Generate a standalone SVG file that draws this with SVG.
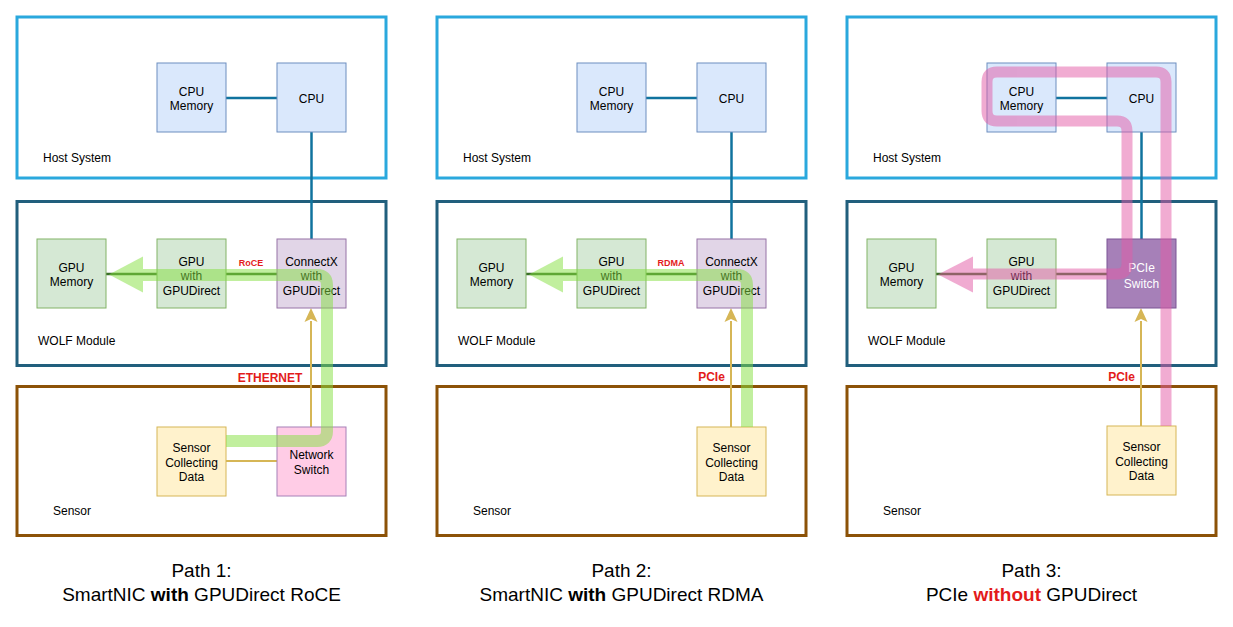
<svg xmlns="http://www.w3.org/2000/svg" width="1233" height="627" viewBox="0 0 1233 627">
<style>
text{font-family:"Liberation Sans",Arial,sans-serif;fill:#000}
.n{font-size:12px;text-anchor:middle}
.lbl{font-size:12px}
.host{fill:none;stroke:#2AA8DD;stroke-width:3}
.wolf{fill:none;stroke:#215F7D;stroke-width:3}
.sens{fill:none;stroke:#8C5207;stroke-width:3}
.blue{fill:#DAE8FC;stroke:#6C8EBF;stroke-width:1}
.green{fill:#D5E8D4;stroke:#82B366;stroke-width:1}
.purple{fill:#E1D5E7;stroke:#9673A6;stroke-width:1}
.yellow{fill:#FFF2CC;stroke:#D6B656;stroke-width:1}
.pink{fill:#FFCCE6;stroke:#A680B8;stroke-width:1}
.pswitch{fill:#A680B8;stroke:#7B5595;stroke-width:1}
.teal{fill:none;stroke:#10739E;stroke-width:2.5}
.dgreen{fill:none;stroke:#3A6E28;stroke-width:2.5}
.gold{fill:none;stroke:#D6B656;stroke-width:2}
.red{fill:#E31B1B;font-weight:bold;text-anchor:middle}
.cap{font-size:19px;text-anchor:middle}
.hg{fill:none;stroke:#84E040;stroke-width:12;stroke-linejoin:round}
.hp{fill:none;stroke:#E35AA5;stroke-width:11;stroke-linejoin:round}
</style>
<defs>
<marker id="arr" viewBox="0 0 12 12" refX="11" refY="6" markerWidth="6.5" markerHeight="6.5" orient="auto" markerUnits="userSpaceOnUse">
<path d="M0,0 L12,6 L0,12 L3,6 z" fill="#D6B656"/>
</marker>
<marker id="arrg" viewBox="0 0 12 12" refX="11" refY="6" markerWidth="13" markerHeight="13" orient="auto" markerUnits="userSpaceOnUse">
<path d="M0,0 L12,6 L0,12 L3,6 z" fill="#D6B656"/>
</marker>
</defs>
<rect width="1233" height="627" fill="#fff"/>

<!-- Panel 1 -->
<g id="panel1">
<g id="p1-host"><rect class="host" x="17" y="17" width="369" height="161"/><text class="lbl" x="43" y="162">Host System</text></g>
<g id="p1-wolf"><rect class="wolf" x="17" y="201.5" width="369" height="164"/><text class="lbl" x="38" y="345">WOLF Module</text></g>
<g id="p1-sensor"><rect class="sens" x="17" y="386.5" width="369" height="149"/><text class="lbl" x="53" y="515">Sensor</text></g>
<g id="p1-conn">
<path class="teal" d="M226,98 H277"/>
<path class="teal" d="M311.5,132 V239"/>
<path class="dgreen" d="M226,274 H277"/>
<path class="dgreen" d="M106,274 H157"/>
<path class="gold" d="M226,461 H277"/>
<path class="gold" d="M311,427 V321"/>
<path d="M311,308 L317.5,322 L311,319 L304.5,322 z" fill="#D6B656"/>
<text class="red" x="270" y="381.5" font-size="12">ETHERNET</text>
<text class="red" x="251" y="266" font-size="9">RoCE</text>
</g>
<g id="p1-cpumem"><rect class="blue" x="157" y="63" width="69" height="69"/><text class="n" x="191.5" y="96">CPU</text><text class="n" x="191.5" y="110">Memory</text></g>
<g id="p1-cpu"><rect class="blue" x="277" y="63" width="69" height="69"/><text class="n" x="311.5" y="103">CPU</text></g>
<g id="p1-gpumem"><rect class="green" x="37" y="239" width="69" height="69"/><text class="n" x="71.5" y="272">GPU</text><text class="n" x="71.5" y="286">Memory</text></g>
<g id="p1-gpu"><rect class="green" x="157" y="239" width="69" height="69"/><text class="n" x="191.5" y="265.5">GPU</text><text class="n" x="191.5" y="280">with</text><text class="n" x="191.5" y="294.5">GPUDirect</text></g>
<g id="p1-connectx"><rect class="purple" x="277" y="239" width="69" height="69"/><text class="n" x="311.5" y="265.5">ConnectX</text><text class="n" x="311.5" y="280">with</text><text class="n" x="311.5" y="294.5">GPUDirect</text></g>
<g id="p1-sensordata"><rect class="yellow" x="157" y="427" width="69" height="69"/><text class="n" x="191.5" y="452">Sensor</text><text class="n" x="191.5" y="466.5">Collecting</text><text class="n" x="191.5" y="481">Data</text></g>
<g id="p1-netswitch"><rect class="pink" x="277" y="427" width="69" height="69"/><text class="n" x="311.5" y="458.5">Network</text><text class="n" x="311.5" y="473.5">Switch</text></g>
<g id="p1-highlight" opacity="0.5">
<path class="hg" d="M226,441 H317 Q327,441 327,431 V285 Q327,275 317,275 H143"/>
<polygon points="143,256.5 109,274.5 143,292.5" fill="#84E040"/>
</g>
<text class="cap" x="201.5" y="577">Path 1:</text>
<text class="cap" x="201.5" y="601">SmartNIC <tspan font-weight="bold">with</tspan> GPUDirect RoCE</text>
</g>

<!-- Panel 2 -->
<g id="panel2" transform="translate(420,0)">
<g id="p2-host"><rect class="host" x="17" y="17" width="369" height="161"/><text class="lbl" x="43" y="162">Host System</text></g>
<g id="p2-wolf"><rect class="wolf" x="17" y="201.5" width="369" height="164"/><text class="lbl" x="38" y="345">WOLF Module</text></g>
<g id="p2-sensor"><rect class="sens" x="17" y="386.5" width="369" height="149"/><text class="lbl" x="53" y="515">Sensor</text></g>
<g id="p2-conn">
<path class="teal" d="M226,98 H277"/>
<path class="teal" d="M311.5,132 V239"/>
<path class="dgreen" d="M226,274 H277"/>
<path class="dgreen" d="M106,274 H157"/>
<path class="gold" d="M311,427 V321"/>
<path d="M311,308 L317.5,322 L311,319 L304.5,322 z" fill="#D6B656"/>
<text class="red" x="291.5" y="381" font-size="12">PCIe</text>
<text class="red" x="251" y="266" font-size="9">RDMA</text>
</g>
<g id="p2-cpumem"><rect class="blue" x="157" y="63" width="69" height="69"/><text class="n" x="191.5" y="96">CPU</text><text class="n" x="191.5" y="110">Memory</text></g>
<g id="p2-cpu"><rect class="blue" x="277" y="63" width="69" height="69"/><text class="n" x="311.5" y="103">CPU</text></g>
<g id="p2-gpumem"><rect class="green" x="37" y="239" width="69" height="69"/><text class="n" x="71.5" y="272">GPU</text><text class="n" x="71.5" y="286">Memory</text></g>
<g id="p2-gpu"><rect class="green" x="157" y="239" width="69" height="69"/><text class="n" x="191.5" y="265.5">GPU</text><text class="n" x="191.5" y="280">with</text><text class="n" x="191.5" y="294.5">GPUDirect</text></g>
<g id="p2-connectx"><rect class="purple" x="277" y="239" width="69" height="69"/><text class="n" x="311.5" y="265.5">ConnectX</text><text class="n" x="311.5" y="280">with</text><text class="n" x="311.5" y="294.5">GPUDirect</text></g>
<g id="p2-sensordata"><rect class="yellow" x="277" y="427" width="69" height="69"/><text class="n" x="311.5" y="452">Sensor</text><text class="n" x="311.5" y="466.5">Collecting</text><text class="n" x="311.5" y="481">Data</text></g>
<g id="p2-highlight" opacity="0.5">
<path class="hg" d="M327,427 V285 Q327,275 317,275 H143"/>
<polygon points="143,256.5 109,274.5 143,292.5" fill="#84E040"/>
</g>
<text class="cap" x="201.5" y="577">Path 2:</text>
<text class="cap" x="201.5" y="601">SmartNIC <tspan font-weight="bold">with</tspan> GPUDirect RDMA</text>
</g>

<!-- Panel 3 -->
<g id="panel3" transform="translate(830,0)">
<g id="p3-host"><rect class="host" x="17" y="17" width="369" height="161"/><text class="lbl" x="43" y="162">Host System</text></g>
<g id="p3-wolf"><rect class="wolf" x="17" y="201.5" width="369" height="164"/><text class="lbl" x="38" y="345">WOLF Module</text></g>
<g id="p3-sensor"><rect class="sens" x="17" y="386.5" width="369" height="149"/><text class="lbl" x="53" y="515">Sensor</text></g>
<g id="p3-conn">
<path class="teal" d="M226,98 H277"/>
<path class="teal" d="M311.5,132 V239"/>
<path class="dgreen" d="M226,274 H277"/>
<path class="dgreen" d="M106,274 H157"/>
<path class="gold" d="M311,426 V321"/>
<path d="M311,308 L317.5,322 L311,319 L304.5,322 z" fill="#D6B656"/>
<text class="red" x="291.5" y="381" font-size="12">PCIe</text>
</g>
<g id="p3-cpumem"><rect class="blue" x="157" y="63" width="69" height="69"/><text class="n" x="191.5" y="96">CPU</text><text class="n" x="191.5" y="110">Memory</text></g>
<g id="p3-cpu"><rect class="blue" x="277" y="63" width="69" height="69"/><text class="n" x="311.5" y="103">CPU</text></g>
<g id="p3-gpumem"><rect class="green" x="37" y="239" width="69" height="69"/><text class="n" x="71.5" y="272">GPU</text><text class="n" x="71.5" y="286">Memory</text></g>
<g id="p3-gpu"><rect class="green" x="157" y="239" width="69" height="69"/><text class="n" x="191.5" y="265.5">GPU</text><text class="n" x="191.5" y="280">with</text><text class="n" x="191.5" y="294.5">GPUDirect</text></g>
<g id="p3-pcieswitch"><rect class="pswitch" x="277" y="239" width="69" height="69"/><text class="n" x="311.5" y="272" style="fill:#fff">PCIe</text><text class="n" x="311.5" y="288" style="fill:#fff">Switch</text></g>
<g id="p3-sensordata"><rect class="yellow" x="277" y="426" width="69" height="69"/><text class="n" x="311.5" y="451">Sensor</text><text class="n" x="311.5" y="465.5">Collecting</text><text class="n" x="311.5" y="480">Data</text></g>
<g id="p3-highlight" opacity="0.5">
<path class="hp" d="M336,426 V82 Q336,72 326,72 H167 Q157,72 157,82 V111 Q157,121 167,121 H287 Q297,121 297,131 V264 Q297,274 287,274 H143"/>
<polygon points="143,256.5 108,274.5 143,292.5" fill="#E35AA5"/>
</g>
<text class="cap" x="201.5" y="577">Path 3:</text>
<text class="cap" x="201.5" y="601">PCIe <tspan font-weight="bold" style="fill:#E31B1B">without</tspan> GPUDirect</text>
</g>
</svg>
